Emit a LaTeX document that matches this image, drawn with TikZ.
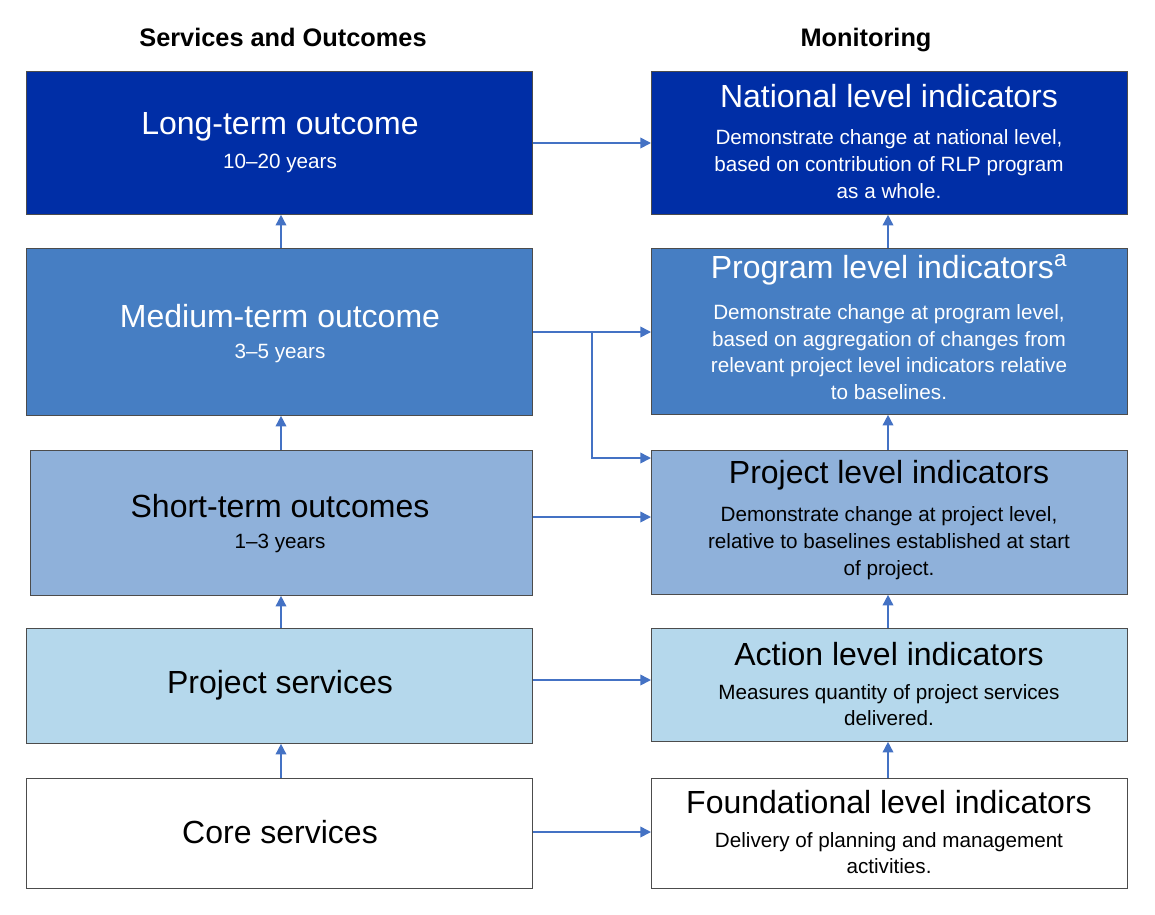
\documentclass[tikz,border=0pt]{standalone}
\usepackage{fontspec}
\setmainfont{Liberation Sans}
\usetikzlibrary{arrows.meta}
\definecolor{lvlA}{HTML}{002EA6}
\definecolor{lvlB}{HTML}{467EC3}
\definecolor{lvlC}{HTML}{8FB1DA}
\definecolor{lvlD}{HTML}{B5D8EC}
\definecolor{linkc}{HTML}{4472C4}
\tikzset{
  box/.style={draw=black!70, line width=0.6pt, anchor=north west, inner sep=0pt},
  ttl/.style={font=\fontsize{24}{28}\selectfont},
  sub/.style={font=\fontsize{15.5}{20}\selectfont, align=center},
  link/.style={draw=linkc, line width=1.2pt, -{Triangle[length=8pt,width=8pt]}},
  hdr/.style={font=\bfseries\fontsize{19}{22}\selectfont}
}
\begin{document}
\begin{tikzpicture}[x=0.75pt,y=-0.75pt]
  \useasboundingbox (0,0) rectangle (1155,914);
  % headers
  \node[hdr] (hl) at (283,37) {Services and Outcomes};
  \node[hdr] (hr) at (866,40) {Monitoring};
  % left column
  \node[box, fill=lvlA, minimum width=506*0.75pt, minimum height=143*0.75pt] (l1) at (26,71) {};
  \node[box, fill=lvlB, minimum width=506*0.75pt, minimum height=167*0.75pt] (l2) at (26,248) {};
  \node[box, fill=lvlC, minimum width=502*0.75pt, minimum height=145*0.75pt] (l3) at (30,450) {};
  \node[box, fill=lvlD, minimum width=506*0.75pt, minimum height=115*0.75pt] (l4) at (26,628) {};
  \node[box, fill=white, minimum width=506*0.75pt, minimum height=110*0.75pt] (l5) at (26,778) {};
  \node[ttl, text=white] at (280,127) {Long-term outcome};
  \node[sub, text=white] at (280,163) {10–20 years};
  \node[ttl, text=white] at (280,316) {Medium-term outcome};
  \node[sub, text=white] at (280,353) {3–5 years};
  \node[ttl] at (280,506) {Short-term outcomes};
  \node[sub] at (280,543) {1–3 years};
  \node[ttl] at (280,685) {Project services};
  \node[ttl] at (280,832) {Core services};
  % right column
  \node[box, fill=lvlA, minimum width=476*0.75pt, minimum height=143*0.75pt] (r1) at (651,71) {};
  \node[box, fill=lvlB, minimum width=476*0.75pt, minimum height=166*0.75pt] (r2) at (651,248) {};
  \node[box, fill=lvlC, minimum width=476*0.75pt, minimum height=144*0.75pt] (r3) at (651,450) {};
  \node[box, fill=lvlD, minimum width=476*0.75pt, minimum height=113*0.75pt] (r4) at (651,628) {};
  \node[box, fill=white, minimum width=476*0.75pt, minimum height=110*0.75pt] (r5) at (651,778) {};
  \node[ttl, text=white] at (889,96) {National level indicators};
  \node[sub, text=white] at (889,164) {Demonstrate change at national level,\\based on contribution of RLP program\\as a whole.};
  \node[ttl, text=white] at (889,270) {Program level indicators\textsuperscript{a}};
  \node[sub, text=white] at (889,352) {Demonstrate change at program level,\\based on aggregation of changes from\\relevant project level indicators relative\\to baselines.};
  \node[ttl] at (889,475) {Project level indicators};
  \node[sub] at (889,543) {Demonstrate change at project level,\\relative to baselines established at start\\of project.};
  \node[ttl] at (889,654) {Action level indicators};
  \node[sub] at (889,705) {Measures quantity of project services\\delivered.};
  \node[ttl] at (889,802) {Foundational level indicators};
  \node[sub] at (889,853) {Delivery of planning and management\\activities.};
  % connectors
  \draw[link] (l1.east |- 0,143) -- (r1.west |- 0,143);
  \draw[link] (l2.east |- 0,332) -- (r2.west |- 0,332);
  \draw[link] (l3.east |- 0,517) -- (r3.west |- 0,517);
  \draw[link] (l4.east |- 0,680) -- (r4.west |- 0,680);
  \draw[link] (l5.east |- 0,832) -- (r5.west |- 0,832);
  \draw[link] (592,332) -- (592,458) -- (r3.west |- 0,458);
  \foreach \a/\b in {l5/l4,l4/l3,l3/l2,l2/l1}
    \draw[link] (\a.north -| 281,0) -- (\b.south -| 281,0);
  \foreach \a/\b in {r5/r4,r4/r3,r3/r2,r2/r1}
    \draw[link] (\a.north -| 888,0) -- (\b.south -| 888,0);
\end{tikzpicture}
\end{document}
